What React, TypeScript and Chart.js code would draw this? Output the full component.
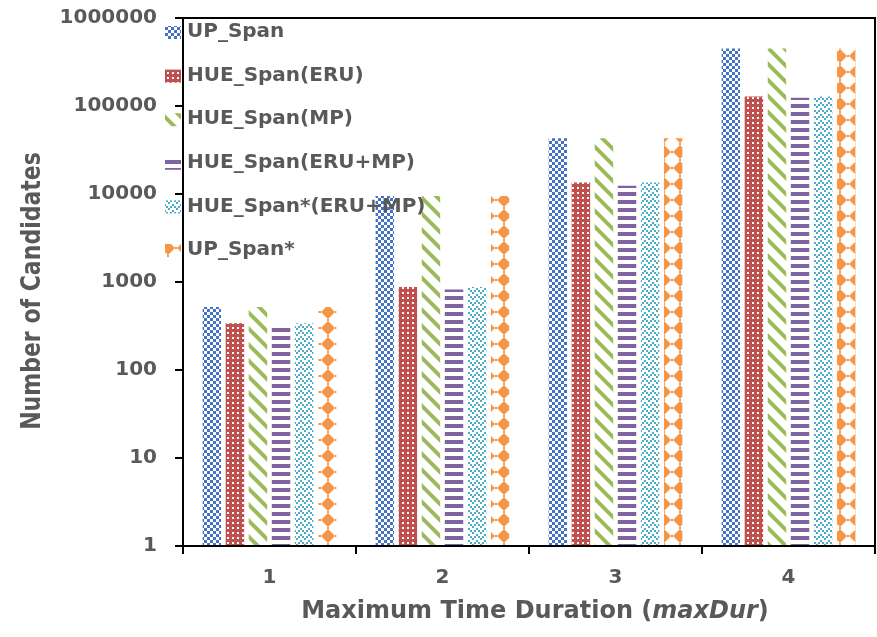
import React, { useEffect, useRef } from 'react';
import { Chart, registerables } from 'chart.js';

Chart.register(...registerables);

const categories = ['1', '2', '3', '4'];
const upSpan = [520, 9500, 43000, 450000];
const hueEru = [340, 880, 13500, 128000];
const hueMp = [520, 9500, 43000, 450000];
const hueEruMp = [330, 820, 12400, 124000];
const hueStarEruMp = [340, 880, 13500, 128000];
const upSpanStar = [520, 9500, 43000, 450000];
const seriesLabels = ['UP_Span', 'HUE_Span(ERU)', 'HUE_Span(MP)', 'HUE_Span(ERU+MP)', 'HUE_Span*(ERU+MP)', 'UP_Span*'];
const seriesColors = ['#4472C4', '#C0504D', '#9BBB59', '#8064A2', '#4BACC6', '#F79646'];
const yTickValues = [1, 10, 100, 1000, 10000, 100000, 1000000];

const FONT = '"DejaVu Sans", sans-serif';
const TEXT = '#595959';

function makePattern(w: number, h: number, draw: (g: CanvasRenderingContext2D) => void) {
  const c = document.createElement('canvas');
  c.width = w;
  c.height = h;
  const g = c.getContext('2d') as CanvasRenderingContext2D;
  g.fillStyle = '#ffffff';
  g.fillRect(0, 0, w, h);
  draw(g);
  return g.createPattern(c, 'repeat') as CanvasPattern;
}

function buildPatterns() {
  const [blue, red, green, purple, cyan, orange] = seriesColors;
  const p0 = makePattern(6, 6, (g) => {
    g.fillStyle = blue;
    g.fillRect(0, 0, 3, 3);
    g.fillRect(3, 3, 3, 3);
  });
  const p1 = makePattern(5, 5, (g) => {
    g.fillStyle = red;
    g.fillRect(0, 0, 5, 5);
    g.fillStyle = '#ffffff';
    g.fillRect(2, 2, 2, 2);
  });
  const p2 = makePattern(16, 16, (g) => {
    g.strokeStyle = green;
    g.lineWidth = 4;
    g.beginPath();
    g.moveTo(-4, -4);
    g.lineTo(20, 20);
    g.moveTo(-4, 12);
    g.lineTo(4, 20);
    g.moveTo(12, -4);
    g.lineTo(20, 4);
    g.stroke();
  });
  const p3 = makePattern(8, 8, (g) => {
    g.fillStyle = purple;
    g.fillRect(0, 0, 8, 4);
  });
  const p4 = makePattern(8, 6, (g) => {
    g.fillStyle = cyan;
    g.fillRect(0, 4, 2, 2);
    g.fillRect(2, 2, 2, 2);
    g.fillRect(4, 0, 2, 2);
    g.fillRect(6, 2, 2, 2);
  });
  const p5 = makePattern(16, 16, (g) => {
    g.fillStyle = orange;
    g.beginPath();
    g.moveTo(8, 1);
    g.lineTo(15, 8);
    g.lineTo(8, 15);
    g.lineTo(1, 8);
    g.closePath();
    g.fill();
    g.fillRect(7, 0, 2, 1);
    g.fillRect(7, 15, 2, 1);
    g.fillRect(0, 7, 1, 2);
    g.fillRect(15, 7, 1, 2);
  });
  return [p0, p1, p2, p3, p4, p5];
}

const decorPlugin = {
  id: 'decor',
  afterDraw(chart: any) {
    const ctx = chart.ctx as CanvasRenderingContext2D;
    const { left, top, right, bottom } = chart.chartArea;
    ctx.save();
    ctx.strokeStyle = '#000';
    ctx.lineWidth = 2;
    ctx.strokeRect(left, top, right - left, bottom - top);

    // legend
    ctx.font = 'bold 20px ' + FONT;
    ctx.textBaseline = 'middle';
    ctx.textAlign = 'left';
    chart.data.datasets.forEach((ds: any, i: number) => {
      const y = top + 14 + i * 43.6;
      ctx.fillStyle = ds.backgroundColor;
      ctx.fillRect(left - 18, y - 6, 16, 13);
      ctx.fillStyle = TEXT;
      ctx.fillText(ds.label, left + 4, y);
    });

    // y title
    ctx.save();
    ctx.translate(33, 291);
    ctx.scale(1.2, 1);
    ctx.rotate(-Math.PI / 2);
    ctx.textAlign = 'center';
    ctx.font = 'bold 22px ' + FONT;
    ctx.fillStyle = TEXT;
    ctx.fillText('Number of Candidates', 0, 0);
    ctx.restore();

    // x title with italic part
    const parts = [
      { t: 'Maximum Time Duration (', f: 'bold 24px ' + FONT },
      { t: 'maxDur', f: 'italic bold 24px ' + FONT },
      { t: ')', f: 'bold 24px ' + FONT },
    ];
    let total = 0;
    parts.forEach((p) => {
      ctx.font = p.f;
      total += ctx.measureText(p.t).width;
    });
    let x = 535 - total / 2;
    ctx.fillStyle = TEXT;
    ctx.textAlign = 'left';
    parts.forEach((p) => {
      ctx.font = p.f;
      ctx.fillText(p.t, x, 612);
      x += ctx.measureText(p.t).width;
    });
    ctx.restore();
  },
};

export default function App() {
  const ref = useRef<HTMLCanvasElement | null>(null);
  useEffect(() => {
    document.body.style.margin = '0';
    const canvas = ref.current;
    if (!canvas) return;
    const patterns = buildPatterns();
    const values = [upSpan, hueEru, hueMp, hueEruMp, hueStarEruMp, upSpanStar];
    const chart = new Chart(canvas, {
      type: 'bar',
      data: {
        labels: categories,
        datasets: values.map((v, i) => ({
          label: seriesLabels[i],
          data: v,
          backgroundColor: patterns[i] as any,
          borderWidth: 0,
          categoryPercentage: 0.8,
          barPercentage: 0.8,
        })),
      },
      options: {
        responsive: false,
        animation: false,
        layout: { padding: { top: 18, right: 2, left: 0, bottom: 0 } },
        plugins: { legend: { display: false }, tooltip: { enabled: false } },
        scales: {
          x: {
            grid: { display: true, drawOnChartArea: false, drawTicks: true, tickLength: 8, color: '#000', lineWidth: 2, offset: true },
            border: { display: true, color: '#000', width: 2 },
            ticks: { color: TEXT, font: { family: FONT, size: 20, weight: 'bold' }, padding: 12 },
            afterFit: (s: any) => {
              s.height = 91;
              s.paddingLeft = 0;
              s.paddingRight = 0;
            },
          },
          y: {
            type: 'logarithmic',
            min: 1,
            max: 1000000,
            afterBuildTicks: (s: any) => {
              s.ticks = yTickValues.map((v) => ({ value: v }));
            },
            grid: { display: true, drawOnChartArea: false, drawTicks: true, tickLength: 8, color: '#000', lineWidth: 2 },
            border: { display: true, color: '#000', width: 2 },
            ticks: {
              color: TEXT,
              font: { family: FONT, size: 20, weight: 'bold' },
              padding: 18,
              autoSkip: false,
              callback: (v: any) => String(v),
            },
            afterFit: (s: any) => {
              s.width = 183;
              s.paddingTop = 0;
              s.paddingBottom = 0;
            },
          },
        },
      } as any,
      plugins: [decorPlugin],
    });
    return () => chart.destroy();
  }, []);
  return (
    <div style={{ width: 877, height: 637 }}>
      <canvas ref={ref} width={877} height={637} style={{ display: 'block', width: 877, height: 637 }} />
    </div>
  );
}
